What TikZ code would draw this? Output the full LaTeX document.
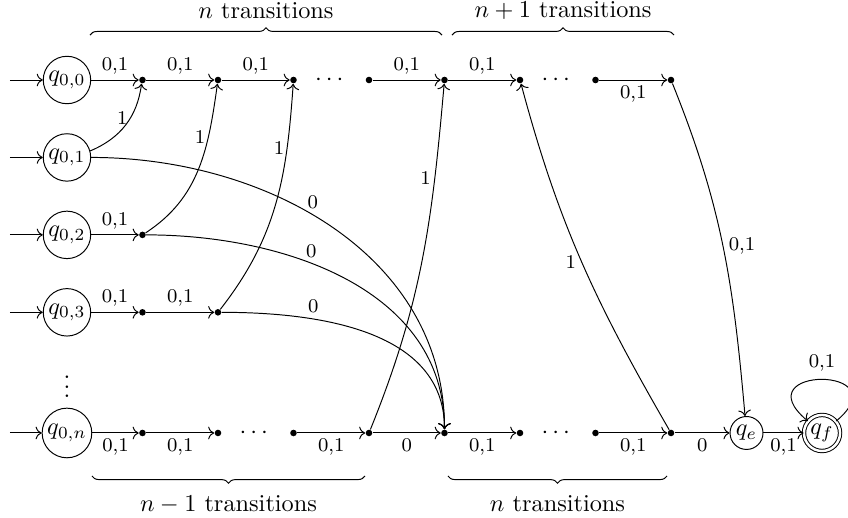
\documentclass[tikz,border=0pt]{standalone}
\usepackage{amsmath,amssymb}
\usetikzlibrary{arrows.meta,positioning,calc,decorations.pathreplacing}
\tikzset{
  st/.style={draw,circle,inner sep=1pt},
  acc/.style={st,double,double distance=1pt},
  dot/.style={circle,fill,inner sep=0pt,minimum size=2.7pt},
  ar/.style={->},
  lab/.style={font=\footnotesize,inner sep=2.2pt},
  brc/.style={decorate,decoration={brace,amplitude=3pt}},
}

\begin{document}
\begin{tikzpicture}[x=1.092cm,y=1.12cm]
  \useasboundingbox (-0.887,1.033) rectangle (10.344,-5.655);
  % start states
  \foreach \r in {0,1,2,3} {
    \node[st] (q\r) at (0,-\r) {$q_{0,\r}$};
    \coordinate (s\r) at (-0.755,-\r);
    \draw[ar] (s\r) -- (q\r);
  }
  \node (vd) at (0,-3.87) {$\vdots$};
  \node[st] (qn) at (0,-4.558) {$q_{0,n}$};
  \coordinate (sn) at (-0.755,-4.558);
  \draw[ar] (sn) -- (qn);
  \node[st] (qe) at (9,-4.558) {$q_e$};
  \node[acc] (qf) at (10,-4.558) {$q_f$};

  % top row
  \foreach \i in {1,...,8} \node[dot] (t\i) at (\i,0) {};
  \node (tc1) at (3.5,0) {$\cdots$};
  \node (tc2) at (6.5,0) {$\cdots$};
  \foreach \a/\b in {q0/t1,t1/t2,t2/t3,t4/t5,t5/t6}
    \draw[ar] (\a) -- node[lab,above]{0,1} (\b);
  \draw[ar] (t7) -- node[lab,below]{0,1} (t8);

  % rows 2 and 3
  \node[dot] (a1) at (1,-2) {};
  \node[dot] (b1) at (1,-3) {};
  \node[dot] (b2) at (2,-3) {};
  \draw[ar] (q2) -- node[lab,above]{0,1} (a1);
  \draw[ar] (q3) -- node[lab,above]{0,1} (b1);
  \draw[ar] (b1) -- node[lab,above]{0,1} (b2);

  % bottom row
  \foreach \i in {1,...,8} \node[dot] (u\i) at (\i,-4.558) {};
  \node (uc1) at (2.5,-4.558) {$\cdots$};
  \node (uc2) at (6.5,-4.558) {$\cdots$};
  \foreach \a/\b in {qn/u1,u1/u2,u3/u4,u5/u6,u7/u8,qe/qf}
    \draw[ar] (\a) -- node[lab,below]{0,1} (\b);
  \foreach \a/\b in {u4/u5,u8/qe}
    \draw[ar] (\a) -- node[lab,below]{0} (\b);

  % jumps
  \draw[ar] (q1) to[bend right=30] node[lab,pos=.6,left,inner sep=1pt]{1} (t1);
  \draw[ar] (a1) to[out=33,in=-98] node[lab,pos=.7,left,inner sep=1pt]{1} (t2);
  \draw[ar] (b2) to[out=52,in=-94] node[lab,pos=.75,left,inner sep=1pt]{1} (t3);
  \draw[ar] (u4) to[out=68,in=-95] node[lab,pos=.75,left,inner sep=1.5pt]{1} (t5);
  \draw[ar] (u8) to[out=120,in=-75] node[lab,pos=.5,left]{1} (t6);
  \draw[ar] (t8) to[out=-68,in=95] node[lab,pos=.5,right]{0,1} (qe);
  \draw[ar] (q1) to[out=0,in=90] node[lab,pos=.45,above]{0} (u5);
  \draw[ar] (a1) to[out=0,in=90] node[lab,pos=.4,above]{0} (u5);
  \draw[ar] (b2) to[out=0,in=90] node[lab,pos=.3,above]{0} (u5);
  \draw[ar] (qf.40) .. controls +(40:1.25cm) and +(140:1.25cm) .. (qf.140)
    node[lab,pos=.5,above=1pt]{0,1};

  % braces
  \draw[brc] (0.305,0.58) -- (4.967,0.58) node[midway,above=3pt]{$n$ transitions};
  \draw[brc] (5.1,0.58) -- (8.04,0.58) node[midway,above=3pt]{$n+1$ transitions};
  \draw[brc] (3.947,-5.113) -- (0.331,-5.113) node[midway,below=4.5pt]{$n-1$ transitions};
  \draw[brc] (7.947,-5.113) -- (5.046,-5.113) node[midway,below=4.5pt]{$n$ transitions};
\end{tikzpicture}
\end{document}
